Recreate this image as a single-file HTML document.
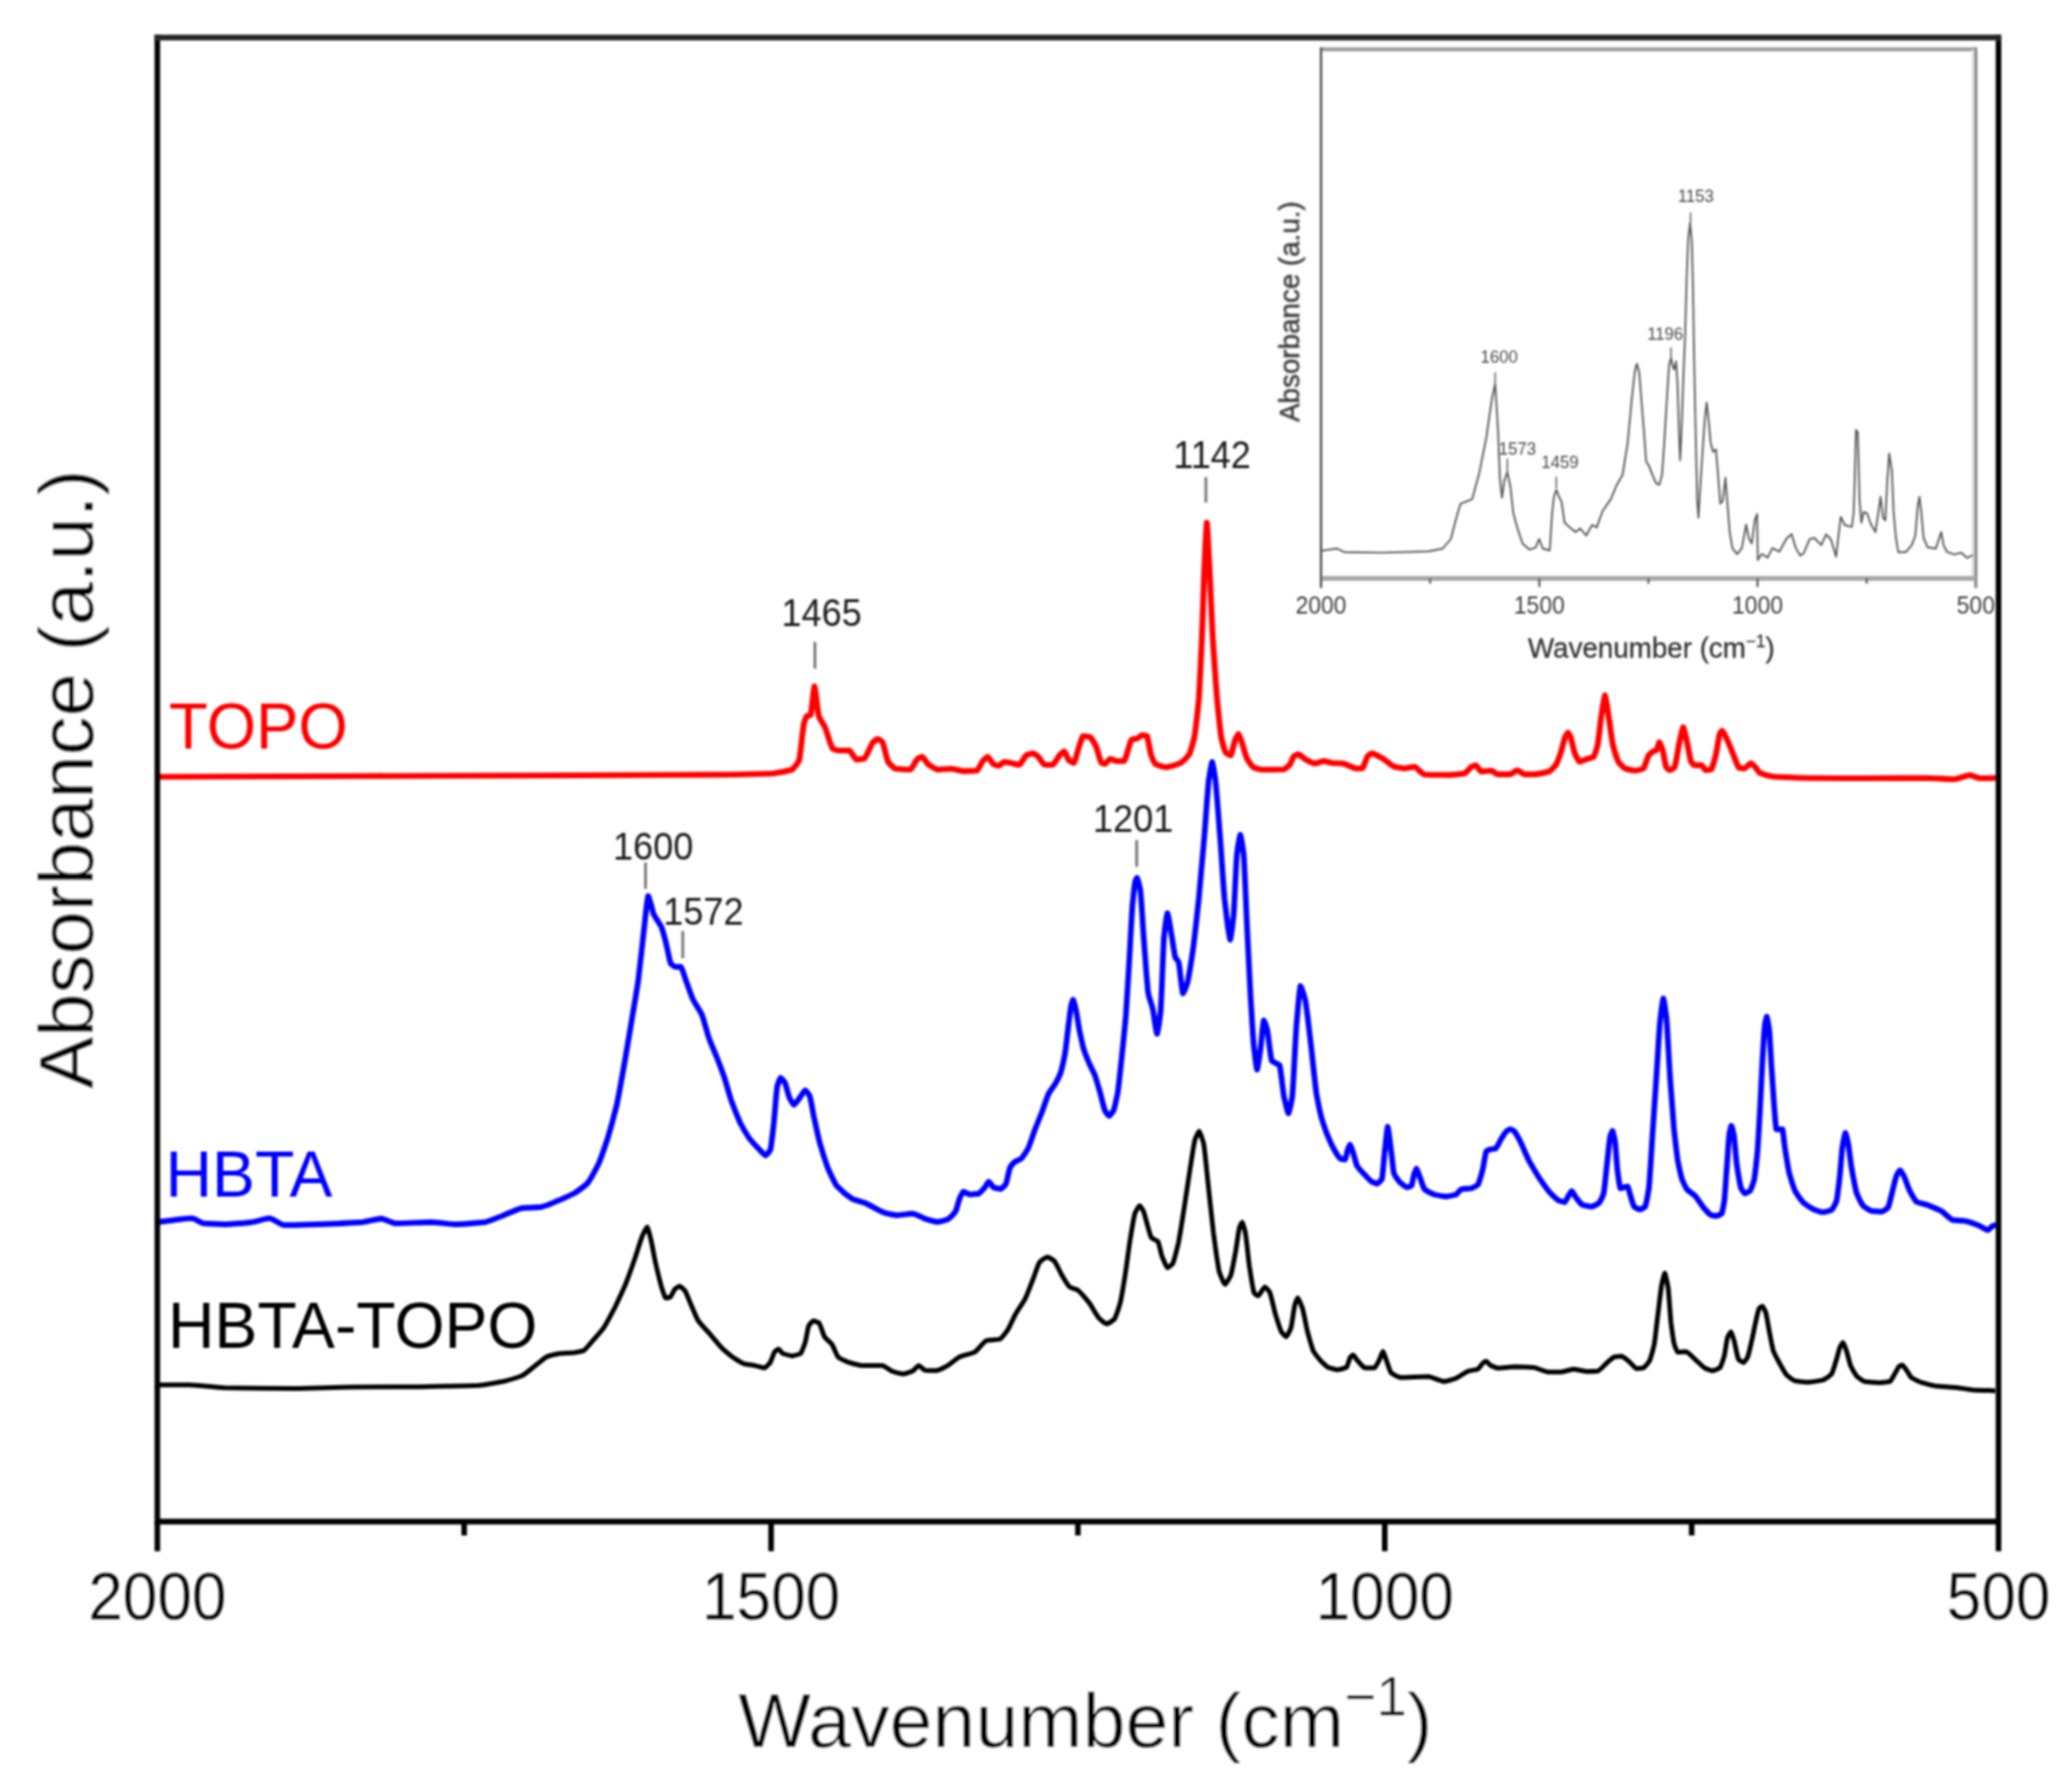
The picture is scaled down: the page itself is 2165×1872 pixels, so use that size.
<!DOCTYPE html>
<html lang="en"><head><meta charset="utf-8"><title>FTIR spectra</title>
<style>html,body{margin:0;padding:0;background:#fff;}body{width:2165px;height:1872px;overflow:hidden;}svg{display:block;}</style>
</head><body>
<svg width="2165" height="1872" viewBox="0 0 2165 1872" font-family='"Liberation Sans", sans-serif'>
<defs><filter id="b1" x="-2%" y="-2%" width="104%" height="104%"><feGaussianBlur stdDeviation="1.05"/></filter><filter id="b3" x="-2%" y="-2%" width="104%" height="104%"><feGaussianBlur stdDeviation="1.25"/></filter><filter id="b2" x="-2%" y="-2%" width="104%" height="104%"><feGaussianBlur stdDeviation="0.95"/></filter></defs>
<rect width="2165" height="1872" fill="#fff"/>
<g filter="url(#b2)">
<line x1="1380.3" y1="51.5" x2="2064.5" y2="51.5" stroke="#9a9a9a" stroke-width="4"/>
<line x1="2064.5" y1="49.5" x2="2064.5" y2="614.2" stroke="#8a8a8a" stroke-width="3.4"/>
<line x1="2061.5" y1="51.5" x2="2061.5" y2="604.2" stroke="#dcdcdc" stroke-width="2.5"/>
<line x1="1380.3" y1="604.2" x2="2064.5" y2="604.2" stroke="#a6a6a6" stroke-width="5"/>
<line x1="1380.3" y1="49.5" x2="1380.3" y2="614.2" stroke="#3a3a3a" stroke-width="2.2"/>
<line x1="1608.4" y1="604.2" x2="1608.4" y2="613.2" stroke="#555" stroke-width="2.2"/>
<line x1="1836.4" y1="604.2" x2="1836.4" y2="613.2" stroke="#555" stroke-width="2.2"/>
<line x1="1494.3" y1="604.2" x2="1494.3" y2="609.7" stroke="#555" stroke-width="2.2"/>
<line x1="1722.4" y1="604.2" x2="1722.4" y2="609.7" stroke="#555" stroke-width="2.2"/>
<line x1="1950.5" y1="604.2" x2="1950.5" y2="609.7" stroke="#555" stroke-width="2.2"/>
<path d="M1380.3,575.4 L1397.0,573.0 L1404.4,576.7 L1443.7,577.4 L1492.8,576.0 L1507.5,573.0 L1516.0,563.0 L1521.0,543.5 L1526.0,526.3 L1538.2,521.4 L1545.6,494.4 L1553.0,457.5 L1559.0,415.8 L1562.3,401.0 L1565.3,450.0 L1567.2,499.3 L1569.4,520.0 L1571.9,501.8 L1575.0,493.0 L1578.3,509.0 L1581.2,536.0 L1586.0,553.3 L1591.0,568.0 L1598.4,574.2 L1604.6,571.8 L1608.2,563.0 L1612.0,573.0 L1619.3,575.0 L1621.8,536.0 L1623.7,519.0 L1626.2,511.6 L1629.0,519.0 L1631.6,523.9 L1634.8,546.0 L1640.2,550.9 L1646.3,555.8 L1651.2,552.0 L1657.4,559.5 L1663.5,548.4 L1668.4,550.9 L1674.6,533.7 L1683.2,521.4 L1689.3,506.7 L1695.4,496.0 L1700.7,463.0 L1705.0,417.0 L1708.2,388.0 L1710.3,380.0 L1712.8,389.0 L1715.3,420.5 L1717.7,450.0 L1720.0,481.8 L1723.0,486.7 L1726.8,496.6 L1730.5,505.0 L1733.7,506.4 L1736.6,496.6 L1739.0,462.2 L1741.5,420.5 L1744.0,381.2 L1746.0,373.9 L1748.2,383.7 L1749.4,386.0 L1751.3,377.5 L1752.8,400.9 L1754.3,450.0 L1755.5,480.6 L1757.0,450.0 L1758.7,400.9 L1760.7,351.8 L1762.4,290.4 L1764.0,248.7 L1766.0,232.8 L1767.8,253.6 L1769.0,302.7 L1770.2,376.3 L1771.7,450.0 L1773.4,523.6 L1774.7,540.7 L1776.4,511.3 L1778.8,474.5 L1781.3,437.7 L1783.3,420.5 L1785.2,437.7 L1787.4,462.2 L1790.0,472.0 L1793.0,469.6 L1795.0,494.0 L1797.5,526.0 L1800.0,523.6 L1802.9,499.0 L1804.8,523.6 L1807.3,555.5 L1810.2,572.6 L1815.2,578.8 L1820.0,572.6 L1824.5,548.0 L1827.4,562.8 L1830.4,567.7 L1833.6,543.2 L1836.0,537.0 L1836.7,585.0 L1840.9,578.8 L1847.0,582.4 L1852.0,572.6 L1859.3,576.3 L1866.7,562.8 L1872.0,558.0 L1876.5,572.6 L1881.0,580.4 L1884.7,578.0 L1890.9,563.2 L1895.8,562.0 L1903.0,569.4 L1908.0,558.3 L1913.0,563.2 L1918.5,581.6 L1921.0,559.5 L1923.4,539.9 L1927.7,548.5 L1935.0,550.3 L1936.9,535.0 L1938.0,498.2 L1939.3,449.0 L1941.2,451.5 L1943.0,522.7 L1944.9,546.0 L1947.3,535.0 L1951.0,536.2 L1954.7,547.3 L1959.6,555.9 L1962.7,535.0 L1965.0,519.0 L1967.6,541.0 L1970.0,543.6 L1971.9,504.3 L1974.0,473.6 L1976.8,492.0 L1978.6,535.0 L1981.0,562.0 L1983.5,576.7 L1991.5,576.7 L1997.6,569.4 L2001.3,559.5 L2003.8,528.9 L2005.6,519.0 L2007.5,535.0 L2009.9,562.0 L2014.2,571.8 L2022.8,573.0 L2025.9,563.2 L2028.3,555.9 L2030.8,569.4 L2034.5,576.7 L2041.8,579.2 L2049.2,577.3 L2055.3,582.9 L2061.5,579.8" fill="none" stroke="#585858" stroke-width="1.9" stroke-linejoin="round"/>
<text transform="translate(1380.3,640.5) scale(0.92,1)" font-size="26" text-anchor="middle" fill="#3d3d3d">2000</text>
<text transform="translate(1608.4,640.5) scale(0.92,1)" font-size="26" text-anchor="middle" fill="#3d3d3d">1500</text>
<text transform="translate(1836.4,640.5) scale(0.92,1)" font-size="26" text-anchor="middle" fill="#3d3d3d">1000</text>
<text transform="translate(2064.5,640.5) scale(0.92,1)" font-size="26" text-anchor="middle" fill="#3d3d3d">500</text>
<text x="1725.5" y="687" font-size="29" text-anchor="middle" fill="#333" stroke="#333" stroke-width="0.3">Wavenumber (cm<tspan font-size="18" dy="-11">&#8722;1</tspan><tspan dy="11">)</tspan></text>
<text transform="translate(1357.5,325.5) rotate(-90)" font-size="29" text-anchor="middle" fill="#333" stroke="#333" stroke-width="0.4">Absorbance (a.u.)</text>
<text x="1566.5" y="379" font-size="17.5" text-anchor="middle" fill="#484848">1600</text>
<line x1="1562.3" y1="389" x2="1562.3" y2="400" stroke="#666" stroke-width="1.6"/>
<text x="1585.5" y="474.5" font-size="17.5" text-anchor="middle" fill="#484848">1573</text>
<line x1="1575" y1="479" x2="1575" y2="492" stroke="#666" stroke-width="1.6"/>
<text x="1630" y="489" font-size="17.5" text-anchor="middle" fill="#484848">1459</text>
<line x1="1626.2" y1="498" x2="1626.2" y2="510" stroke="#666" stroke-width="1.6"/>
<text x="1740" y="355" font-size="17.5" text-anchor="middle" fill="#484848">1196</text>
<line x1="1746" y1="363" x2="1746" y2="373" stroke="#666" stroke-width="1.6"/>
<text x="1772" y="211" font-size="17.5" text-anchor="middle" fill="#484848">1153</text>
<line x1="1766.5" y1="222" x2="1766.5" y2="232" stroke="#666" stroke-width="1.6"/>
</g>
<g filter="url(#b1)">
<path d="M164.5,811.5 C209.7,811.3 254.8,811.2 300.0,811.0 C350.0,810.8 400.0,810.7 450.0,810.5 C500.0,810.3 550.0,810.2 600.0,810.0 C633.3,809.9 666.7,809.7 700.0,809.5 C720.0,809.4 740.0,809.3 760.0,809.2 C776.0,808.9 792.0,808.6 808.0,808.0 C814.5,807.2 821.1,806.0 827.6,804.0 C830.1,802.0 832.5,799.0 835.0,794.4 C836.7,786.5 838.3,765.0 840.0,755.8 C841.0,752.6 842.0,749.4 843.0,748.0 C844.3,747.5 845.7,747.5 847.0,747.0 C848.3,742.1 849.7,721.5 851.0,717.0 C852.5,721.6 854.0,740.9 855.5,748.0 C857.7,753.3 859.8,755.4 862.0,759.7 C864.7,766.2 867.3,777.8 870.0,782.0 C872.0,782.9 874.0,783.7 876.0,784.0 C879.8,784.0 883.6,784.0 887.4,784.0 C889.9,785.4 892.5,792.1 895.0,793.5 C897.7,793.4 900.3,793.0 903.0,792.5 C906.2,789.5 909.3,779.2 912.5,775.0 C914.0,773.8 915.5,772.5 917.0,772.0 C918.7,772.5 920.3,773.6 922.0,775.0 C924.0,779.3 926.0,791.2 928.0,796.0 C930.6,799.1 933.1,801.8 935.7,803.0 C940.8,803.5 945.9,803.9 951.0,804.0 C953.7,802.3 956.3,795.1 959.0,792.5 C960.6,791.7 962.1,790.9 963.7,790.6 C965.6,791.7 967.6,796.0 969.5,798.0 C973.0,800.5 976.5,803.1 980.0,804.0 C984.5,803.9 989.1,803.1 993.6,803.0 C998.1,803.4 1002.5,805.2 1007.0,805.6 C1011.5,805.5 1016.1,805.3 1020.6,805.0 C1022.9,803.3 1025.1,797.3 1027.4,794.4 C1028.9,792.9 1030.5,791.2 1032.0,790.6 C1034.0,791.8 1036.0,796.6 1038.0,798.3 C1039.7,799.0 1041.3,799.7 1043.0,800.0 C1045.2,799.4 1047.4,796.6 1049.6,796.0 C1051.4,796.1 1053.2,796.5 1055.0,796.8 C1058.3,797.4 1061.7,798.7 1065.0,799.0 C1067.6,797.4 1070.1,790.7 1072.7,788.6 C1075.0,787.9 1077.2,787.2 1079.5,787.0 C1081.3,787.5 1083.2,789.2 1085.0,790.6 C1087.0,792.8 1089.0,797.4 1091.0,798.7 C1093.9,798.9 1096.9,799.0 1099.8,799.0 C1102.4,797.4 1104.9,791.5 1107.5,788.6 C1109.0,787.2 1110.5,785.5 1112.0,785.0 C1113.7,786.4 1115.3,792.2 1117.0,794.4 C1118.7,795.5 1120.3,796.6 1122.0,797.0 C1123.9,794.3 1125.9,784.7 1127.8,779.0 C1129.1,775.5 1130.3,770.5 1131.6,769.0 C1134.1,769.1 1136.5,769.5 1139.0,770.0 C1141.0,771.6 1143.0,775.5 1145.0,779.0 C1147.0,783.9 1149.0,793.8 1151.0,797.0 C1152.2,797.5 1153.3,797.9 1154.5,798.0 C1156.3,797.2 1158.2,793.5 1160.0,792.7 C1162.3,793.0 1164.5,794.7 1166.8,795.0 C1169.4,795.0 1172.0,795.0 1174.6,795.0 C1177.2,791.6 1179.8,776.5 1182.4,772.6 C1184.3,772.1 1186.1,772.0 1188.0,771.5 C1189.9,770.7 1191.7,768.5 1193.6,768.0 C1195.2,768.1 1196.9,768.5 1198.5,769.0 C1199.8,772.1 1201.2,782.9 1202.5,788.0 C1204.0,792.0 1205.5,796.0 1207.0,798.0 C1210.7,799.8 1214.3,801.1 1218.0,801.6 C1223.2,800.9 1228.5,799.1 1233.8,797.0 C1236.7,794.9 1239.7,792.0 1242.7,788.0 C1244.5,783.7 1246.2,777.5 1248.0,770.0 C1249.6,759.8 1251.1,746.6 1252.7,730.0 C1253.8,712.5 1254.9,687.7 1256.0,663.0 C1256.8,642.8 1257.5,615.7 1258.3,596.0 C1259.2,577.2 1260.1,553.5 1261.0,546.0 C1262.0,553.5 1262.9,578.3 1263.9,596.0 C1264.9,616.9 1266.0,643.0 1267.0,663.0 C1268.6,688.1 1270.1,710.3 1271.7,730.0 C1273.1,744.8 1274.6,760.0 1276.0,770.0 C1277.5,776.7 1279.1,782.8 1280.6,786.0 C1282.4,787.4 1284.2,788.5 1286.0,789.0 C1287.6,786.5 1289.1,777.0 1290.7,772.6 C1291.8,770.4 1292.9,767.8 1294.0,767.0 C1295.0,768.0 1296.0,771.3 1297.0,773.7 C1299.0,779.4 1301.0,787.8 1303.0,792.7 C1305.2,796.3 1307.4,799.7 1309.6,801.6 C1312.6,802.7 1315.6,803.6 1318.6,804.0 C1326.1,804.0 1333.5,803.9 1341.0,803.8 C1343.2,803.1 1345.4,801.1 1347.6,799.0 C1349.1,796.8 1350.5,791.9 1352.0,790.0 C1353.5,789.1 1355.0,788.3 1356.5,788.0 C1359.3,788.9 1362.2,792.1 1365.0,793.8 C1368.0,795.2 1371.0,797.0 1374.0,797.6 C1377.0,797.2 1380.0,795.4 1383.0,795.0 C1386.0,795.3 1389.0,796.6 1392.0,797.0 C1395.7,797.3 1399.3,797.3 1403.0,797.6 C1407.6,798.6 1412.2,801.9 1416.8,802.7 C1419.0,802.7 1421.3,802.7 1423.5,802.7 C1425.3,800.8 1427.2,792.9 1429.0,790.0 C1430.5,788.7 1432.0,787.5 1433.5,787.0 C1437.6,787.9 1441.7,790.8 1445.8,793.0 C1449.5,795.4 1453.3,799.3 1457.0,801.0 C1460.7,801.8 1464.3,802.4 1468.0,802.7 C1471.3,802.4 1474.7,801.3 1478.0,801.0 C1481.3,802.2 1484.7,807.7 1488.0,809.0 C1492.0,809.3 1496.0,809.4 1500.0,809.5 C1504.8,809.5 1509.7,809.6 1514.5,809.6 C1519.8,809.4 1525.1,808.8 1530.4,808.0 C1532.8,806.7 1535.2,802.7 1537.6,801.0 C1539.1,800.3 1540.5,799.6 1542.0,799.4 C1543.9,800.4 1545.9,805.0 1547.8,806.0 C1551.2,805.9 1554.6,805.1 1558.0,805.0 C1560.3,805.6 1562.7,808.3 1565.0,808.9 C1569.3,808.9 1573.7,808.9 1578.0,808.9 C1580.5,808.3 1582.9,805.4 1585.4,804.8 C1587.8,805.4 1590.3,808.3 1592.7,808.9 C1596.5,808.9 1600.2,808.9 1604.0,808.9 C1608.9,808.5 1613.8,807.4 1618.7,806.0 C1621.1,804.4 1623.6,801.8 1626.0,798.7 C1627.7,795.4 1629.3,790.4 1631.0,785.7 C1632.5,780.9 1633.9,773.9 1635.4,769.8 C1636.4,768.0 1637.3,766.1 1638.3,765.4 C1639.2,766.1 1640.1,768.0 1641.0,769.8 C1642.5,774.2 1644.0,782.4 1645.5,787.0 C1647.2,790.6 1648.9,794.5 1650.6,795.8 C1653.0,795.4 1655.4,793.9 1657.8,793.0 C1660.2,792.2 1662.6,791.9 1665.0,790.8 C1666.5,788.5 1667.9,783.7 1669.4,778.4 C1670.6,771.3 1671.8,758.3 1673.0,749.5 C1674.3,741.1 1675.7,729.8 1677.0,726.3 C1678.3,729.8 1679.7,741.5 1681.0,749.5 C1682.4,758.7 1683.9,770.7 1685.3,778.4 C1687.2,785.5 1689.1,791.6 1691.0,795.8 C1693.5,798.9 1695.9,801.5 1698.4,803.0 C1701.8,803.9 1705.1,804.7 1708.5,805.0 C1711.3,804.7 1714.2,804.0 1717.0,803.0 C1719.0,800.3 1721.0,792.1 1723.0,788.6 C1724.4,787.1 1725.9,786.0 1727.3,785.0 C1728.5,784.4 1729.8,784.2 1731.0,783.5 C1731.9,781.9 1732.9,776.7 1733.8,775.5 C1735.0,776.8 1736.2,780.6 1737.4,784.0 C1738.6,788.7 1739.8,798.1 1741.0,801.6 C1742.2,803.0 1743.5,804.1 1744.7,804.5 C1746.4,804.1 1748.0,803.0 1749.7,801.6 C1751.4,796.7 1753.1,783.6 1754.8,775.5 C1756.1,769.9 1757.4,762.0 1758.7,759.6 C1760.1,762.0 1761.4,769.9 1762.8,775.5 C1764.2,781.9 1765.6,791.5 1767.0,795.8 C1768.2,797.4 1769.5,798.9 1770.7,799.4 C1773.1,799.4 1775.6,799.4 1778.0,799.4 C1779.4,800.2 1780.9,803.7 1782.3,804.5 C1784.2,804.4 1786.1,804.2 1788.0,803.8 C1789.7,801.2 1791.3,794.1 1793.0,788.0 C1794.3,781.8 1795.7,771.2 1797.0,766.5 C1797.8,765.2 1798.5,763.9 1799.3,763.4 C1801.1,764.8 1802.9,769.3 1804.7,772.7 C1806.8,777.3 1808.9,783.0 1811.0,788.0 C1813.0,792.7 1815.0,799.6 1817.0,802.0 C1818.8,802.4 1820.7,802.7 1822.5,802.8 C1824.8,802.0 1827.1,798.2 1829.4,797.4 C1830.7,797.9 1832.0,799.3 1833.3,800.5 C1835.1,802.5 1836.9,805.9 1838.7,807.4 C1843.3,809.3 1848.0,810.5 1852.6,811.3 C1864.4,812.1 1876.2,812.5 1888.0,812.8 C1908.7,812.9 1929.3,813.0 1950.0,813.0 C1970.6,813.0 1991.1,812.8 2011.7,812.8 C2022.0,813.0 2032.2,813.8 2042.5,814.0 C2047.7,813.4 2052.8,810.3 2058.0,809.7 C2061.6,810.2 2065.2,812.5 2068.8,813.0 C2074.9,813.0 2080.9,812.9 2087.0,812.8" fill="none" stroke="#ff0000" stroke-width="6.1" stroke-linejoin="round" stroke-linecap="butt"/>
<path d="M164.5,1276.7 C171.7,1275.8 178.8,1274.8 186.0,1274.0 C190.9,1273.5 195.8,1272.8 200.7,1272.6 C204.7,1273.4 208.7,1277.0 212.7,1278.0 C220.0,1278.5 227.2,1278.8 234.5,1279.0 C244.1,1278.7 253.8,1277.7 263.4,1276.7 C269.4,1275.7 275.5,1273.2 281.5,1272.6 C286.7,1273.7 291.8,1278.7 297.0,1279.8 C308.3,1279.7 319.7,1279.3 331.0,1279.0 C347.0,1278.4 363.0,1277.8 379.0,1276.7 C385.5,1275.8 392.0,1273.6 398.5,1273.0 C403.3,1273.8 408.2,1277.2 413.0,1278.0 C425.9,1277.8 438.7,1276.9 451.6,1276.7 C459.7,1277.0 467.7,1278.7 475.8,1279.0 C486.2,1278.7 496.6,1277.8 507.0,1276.7 C513.5,1275.1 519.9,1271.8 526.4,1269.4 C532.9,1266.9 539.3,1263.4 545.8,1262.0 C552.2,1261.5 558.6,1261.5 565.0,1261.0 C571.5,1259.6 577.9,1256.4 584.4,1253.8 C589.9,1251.4 595.5,1249.0 601.0,1246.0 C605.3,1243.1 609.7,1240.1 614.0,1236.0 C617.9,1230.5 621.9,1222.9 625.8,1215.0 C628.9,1207.4 631.9,1198.3 635.0,1189.0 C638.2,1178.2 641.3,1166.9 644.5,1154.0 C647.2,1140.7 650.0,1124.8 652.7,1109.6 C655.1,1095.9 657.4,1081.6 659.8,1067.5 C662.1,1053.4 664.4,1040.7 666.8,1025.0 C668.7,1009.6 670.7,990.3 672.6,973.7 C674.2,960.8 675.7,941.7 677.3,936.0 C679.2,938.9 681.1,949.8 683.0,955.0 C685.8,960.6 688.6,963.3 691.4,969.0 C692.9,973.4 694.5,979.6 696.0,985.4 C697.6,992.0 699.2,1002.2 700.8,1006.5 C702.3,1008.1 703.9,1009.5 705.4,1010.0 C707.4,1010.0 709.3,1010.0 711.3,1010.0 C713.2,1012.2 715.1,1020.0 717.0,1025.0 C719.3,1031.3 721.7,1038.4 724.0,1044.0 C727.2,1050.2 730.4,1053.9 733.6,1060.4 C735.9,1066.9 738.3,1076.8 740.6,1084.0 C743.7,1092.4 746.9,1099.1 750.0,1107.0 C752.3,1113.2 754.7,1119.3 757.0,1126.0 C759.3,1133.4 761.7,1142.3 764.0,1149.5 C767.1,1158.0 770.3,1166.0 773.4,1173.0 C776.5,1178.9 779.7,1184.3 782.8,1189.0 C786.7,1193.9 790.6,1197.9 794.5,1202.0 C796.3,1203.7 798.2,1206.2 800.0,1207.0 C801.7,1206.1 803.3,1203.9 805.0,1201.0 C806.2,1195.4 807.4,1183.2 808.6,1173.0 C809.7,1161.7 810.9,1143.7 812.0,1135.4 C813.2,1131.2 814.4,1127.4 815.6,1126.0 C817.1,1126.7 818.5,1128.7 820.0,1130.7 C821.7,1134.6 823.3,1142.7 825.0,1147.0 C826.5,1149.8 828.1,1153.0 829.6,1154.0 C831.6,1153.0 833.5,1149.4 835.5,1147.0 C837.5,1144.4 839.4,1140.2 841.4,1139.0 C842.9,1139.9 844.5,1142.2 846.0,1144.8 C847.6,1150.0 849.1,1160.5 850.7,1168.0 C852.7,1176.9 854.6,1186.1 856.6,1194.0 C859.3,1203.4 862.1,1212.2 864.8,1219.8 C867.9,1226.8 870.9,1233.6 874.0,1238.5 C879.5,1244.4 885.1,1249.1 890.6,1252.6 C895.3,1254.4 899.9,1255.4 904.6,1257.0 C910.9,1259.8 917.1,1264.2 923.4,1266.6 C928.1,1267.8 932.7,1269.1 937.4,1269.5 C942.9,1269.2 948.3,1268.1 953.8,1267.8 C958.5,1268.7 963.3,1272.0 968.0,1273.7 C971.9,1274.8 975.7,1276.1 979.6,1276.5 C983.2,1276.1 986.8,1275.0 990.4,1273.8 C993.1,1271.9 995.7,1269.3 998.4,1265.7 C999.9,1262.2 1001.4,1255.4 1002.9,1251.4 C1004.1,1249.0 1005.2,1246.0 1006.4,1245.0 C1008.8,1245.4 1011.2,1247.5 1013.6,1247.9 C1016.6,1247.8 1019.5,1247.4 1022.5,1247.0 C1024.6,1245.8 1026.7,1243.0 1028.8,1240.7 C1030.2,1238.8 1031.6,1235.4 1033.0,1234.5 C1034.9,1235.4 1036.7,1239.4 1038.6,1240.7 C1041.0,1241.3 1043.3,1241.8 1045.7,1242.0 C1047.5,1241.2 1049.2,1239.3 1051.0,1237.0 C1052.5,1233.1 1054.0,1223.5 1055.5,1219.3 C1057.0,1217.0 1058.5,1215.4 1060.0,1214.0 C1062.3,1212.5 1064.7,1211.9 1067.0,1210.4 C1069.4,1207.8 1071.9,1203.8 1074.3,1199.6 C1076.7,1194.1 1079.0,1186.4 1081.4,1180.0 C1083.8,1173.8 1086.2,1168.2 1088.6,1162.0 C1091.0,1155.7 1093.3,1147.9 1095.7,1142.5 C1098.1,1138.3 1100.5,1135.7 1102.9,1131.8 C1104.7,1128.5 1106.4,1125.3 1108.2,1121.0 C1109.7,1115.7 1111.2,1109.1 1112.7,1101.4 C1113.9,1093.4 1115.1,1082.3 1116.2,1072.9 C1117.2,1065.7 1118.1,1056.9 1119.0,1051.4 C1119.8,1048.5 1120.5,1045.4 1121.2,1044.3 C1122.3,1045.9 1123.3,1050.9 1124.3,1055.0 C1125.5,1061.1 1126.7,1069.8 1127.9,1076.4 C1129.4,1083.5 1130.8,1090.4 1132.3,1096.0 C1134.4,1102.2 1136.5,1107.0 1138.6,1112.0 C1140.4,1115.8 1142.1,1118.8 1143.9,1122.9 C1145.7,1128.1 1147.5,1134.6 1149.3,1140.7 C1151.1,1147.1 1152.8,1155.7 1154.6,1160.4 C1156.1,1162.6 1157.5,1164.9 1159.0,1165.7 C1160.5,1164.8 1162.1,1162.5 1163.6,1160.0 C1165.1,1155.5 1166.5,1148.4 1168.0,1140.7 C1169.2,1131.8 1170.5,1119.3 1171.7,1108.0 C1173.3,1092.9 1174.8,1078.8 1176.4,1061.0 C1177.6,1044.0 1178.8,1022.5 1180.0,1002.7 C1181.1,983.5 1182.3,959.7 1183.4,944.0 C1184.4,934.7 1185.3,925.8 1186.2,920.6 C1186.8,919.1 1187.4,917.5 1188.0,917.0 C1189.2,919.0 1190.4,924.2 1191.6,930.0 C1192.7,941.0 1193.9,963.4 1195.0,979.0 C1196.6,999.5 1198.2,1024.3 1199.8,1037.8 C1201.4,1044.9 1202.9,1047.8 1204.5,1054.0 C1206.0,1061.5 1207.5,1076.1 1209.0,1080.0 C1210.2,1076.5 1211.5,1066.8 1212.7,1056.6 C1213.9,1038.6 1215.1,997.6 1216.2,979.0 C1217.4,968.3 1218.6,957.8 1219.8,954.0 C1221.4,957.8 1222.9,970.4 1224.5,979.0 C1225.7,985.8 1226.8,995.4 1228.0,1000.0 C1229.2,1002.2 1230.3,1002.8 1231.5,1005.0 C1233.0,1011.8 1234.5,1032.9 1236.0,1037.8 C1237.6,1036.0 1239.3,1030.8 1240.9,1026.0 C1242.8,1017.1 1244.8,1003.9 1246.7,991.0 C1248.7,975.5 1250.6,957.5 1252.6,939.0 C1254.5,918.7 1256.5,896.3 1258.4,873.8 C1259.9,854.8 1261.5,830.0 1263.0,815.0 C1264.2,807.3 1265.4,798.9 1266.6,796.0 C1267.7,798.9 1268.9,807.5 1270.0,815.0 C1271.6,830.4 1273.2,853.5 1274.8,873.8 C1276.4,894.7 1277.9,920.9 1279.5,939.0 C1281.5,955.8 1283.4,975.2 1285.4,981.6 C1286.6,977.7 1287.8,966.5 1289.0,955.8 C1290.1,939.8 1291.3,907.5 1292.4,892.5 C1293.6,883.6 1294.8,875.1 1296.0,872.0 C1297.2,875.1 1298.3,883.5 1299.5,892.5 C1300.7,909.7 1301.8,942.9 1303.0,967.5 C1304.2,991.4 1305.3,1016.1 1306.5,1037.8 C1307.7,1057.1 1308.8,1077.2 1310.0,1091.7 C1311.2,1102.0 1312.3,1113.6 1313.5,1117.5 C1314.7,1114.3 1315.8,1104.1 1317.0,1096.4 C1318.2,1087.3 1319.3,1070.6 1320.5,1066.0 C1321.7,1067.4 1322.8,1071.5 1324.0,1075.3 C1325.6,1083.5 1327.2,1102.1 1328.8,1108.0 C1331.5,1110.5 1334.2,1110.3 1337.0,1112.8 C1338.5,1118.7 1340.1,1136.6 1341.6,1145.6 C1343.2,1152.4 1344.7,1160.4 1346.3,1163.0 C1347.6,1160.4 1349.0,1153.3 1350.3,1145.6 C1351.7,1129.4 1353.1,1093.7 1354.5,1073.0 C1355.9,1056.6 1357.3,1036.5 1358.8,1030.0 C1360.5,1032.2 1362.2,1038.6 1363.9,1044.8 C1365.9,1056.3 1367.8,1075.7 1369.8,1091.7 C1371.7,1108.4 1373.6,1128.6 1375.6,1143.0 C1377.2,1151.8 1378.7,1159.3 1380.3,1166.0 C1382.2,1172.6 1384.1,1178.1 1386.0,1183.4 C1388.3,1189.0 1390.5,1194.2 1392.8,1198.8 C1395.4,1203.1 1397.9,1208.2 1400.5,1210.4 C1402.1,1210.9 1403.8,1211.2 1405.4,1211.4 C1406.4,1209.8 1407.3,1203.8 1408.3,1200.8 C1409.1,1199.0 1409.8,1196.7 1410.6,1196.0 C1411.7,1197.3 1412.9,1201.5 1414.0,1204.6 C1415.3,1208.7 1416.7,1214.7 1418.0,1218.0 C1420.5,1221.8 1423.1,1224.0 1425.6,1226.8 C1428.2,1229.5 1430.8,1232.7 1433.4,1234.6 C1435.3,1235.4 1437.1,1236.2 1439.0,1236.5 C1440.7,1235.8 1442.3,1234.2 1444.0,1231.7 C1445.0,1226.3 1445.9,1211.9 1446.9,1202.7 C1447.9,1193.7 1449.0,1180.9 1450.0,1177.0 C1451.2,1180.9 1452.4,1193.9 1453.6,1202.7 C1454.6,1210.2 1455.5,1221.0 1456.5,1225.9 C1458.4,1230.1 1460.4,1232.2 1462.3,1234.6 C1464.9,1236.9 1467.4,1239.4 1470.0,1240.3 C1471.6,1240.0 1473.3,1239.4 1474.9,1238.4 C1475.9,1236.1 1476.8,1229.3 1477.8,1225.9 C1478.5,1224.0 1479.3,1221.7 1480.0,1221.0 C1481.2,1222.3 1482.4,1226.7 1483.6,1229.7 C1485.2,1233.8 1486.8,1239.6 1488.4,1242.3 C1491.9,1245.0 1495.5,1246.6 1499.0,1248.0 C1502.9,1248.9 1506.7,1249.7 1510.6,1250.0 C1514.1,1249.7 1517.7,1249.0 1521.2,1248.0 C1523.1,1246.8 1525.1,1243.4 1527.0,1242.3 C1530.5,1241.8 1534.1,1241.8 1537.6,1241.3 C1539.9,1240.5 1542.1,1239.3 1544.4,1237.5 C1546.0,1234.3 1547.6,1227.8 1549.2,1222.0 C1550.5,1216.3 1551.7,1206.2 1553.0,1202.7 C1554.3,1201.8 1555.6,1201.3 1556.9,1200.8 C1558.8,1200.4 1560.8,1200.3 1562.7,1199.8 C1565.0,1197.7 1567.2,1191.8 1569.5,1188.2 C1571.1,1185.9 1572.7,1183.2 1574.3,1181.5 C1575.5,1180.7 1576.8,1179.8 1578.0,1179.5 C1579.3,1179.8 1580.7,1180.7 1582.0,1181.5 C1583.9,1183.7 1585.9,1187.6 1587.8,1191.0 C1591.0,1197.5 1594.3,1205.8 1597.5,1212.4 C1601.3,1219.3 1605.2,1225.6 1609.0,1231.7 C1612.2,1236.4 1615.5,1241.0 1618.7,1245.0 C1621.9,1248.3 1625.1,1251.8 1628.3,1253.9 C1630.5,1254.7 1632.8,1255.5 1635.0,1255.8 C1636.3,1254.8 1637.7,1251.2 1639.0,1249.0 C1640.1,1247.3 1641.1,1244.9 1642.2,1244.2 C1643.7,1245.2 1645.2,1248.9 1646.7,1251.0 C1648.9,1253.8 1651.2,1257.1 1653.4,1258.7 C1656.6,1259.6 1659.8,1260.3 1663.0,1260.6 C1665.6,1260.0 1668.2,1258.6 1670.8,1256.8 C1672.4,1254.6 1674.0,1251.5 1675.6,1247.0 C1676.9,1239.4 1678.2,1223.9 1679.5,1212.4 C1680.5,1204.0 1681.4,1193.0 1682.4,1187.3 C1683.2,1184.8 1684.1,1182.4 1684.9,1181.5 C1685.8,1183.2 1686.7,1188.1 1687.6,1193.0 C1688.4,1200.1 1689.2,1213.9 1690.0,1222.0 C1691.0,1229.6 1692.0,1238.4 1693.0,1241.3 C1695.6,1241.0 1698.1,1239.7 1700.7,1239.4 C1701.7,1240.8 1702.6,1245.9 1703.6,1249.0 C1704.9,1253.0 1706.2,1258.2 1707.5,1260.6 C1709.4,1262.0 1711.4,1263.1 1713.3,1263.5 C1715.2,1263.1 1717.1,1262.1 1719.0,1260.6 C1720.3,1257.0 1721.6,1249.5 1722.9,1241.3 C1724.2,1227.3 1725.5,1202.7 1726.8,1183.4 C1728.1,1164.1 1729.4,1144.9 1730.7,1125.5 C1732.0,1106.3 1733.2,1083.0 1734.5,1067.6 C1735.7,1057.8 1736.8,1046.7 1738.0,1043.0 C1739.1,1046.1 1740.2,1055.1 1741.3,1063.7 C1742.5,1079.1 1743.8,1106.2 1745.0,1125.5 C1746.3,1144.2 1747.7,1162.6 1749.0,1178.0 C1750.3,1190.7 1751.7,1202.6 1753.0,1212.0 C1754.5,1219.8 1756.0,1226.7 1757.5,1232.0 C1759.2,1236.2 1760.9,1239.7 1762.6,1242.4 C1765.5,1245.3 1768.4,1246.6 1771.3,1249.3 C1774.2,1252.7 1777.1,1257.8 1780.0,1261.5 C1782.6,1264.3 1785.2,1267.8 1787.8,1269.3 C1789.8,1269.7 1791.9,1270.1 1793.9,1270.2 C1795.6,1269.8 1797.3,1268.9 1799.0,1267.6 C1799.9,1265.2 1800.8,1260.1 1801.7,1254.6 C1802.6,1246.0 1803.4,1231.4 1804.3,1219.8 C1805.2,1208.2 1806.0,1193.3 1806.9,1185.0 C1807.6,1181.2 1808.3,1177.3 1809.0,1176.0 C1809.9,1177.3 1810.7,1181.2 1811.6,1185.0 C1812.6,1192.6 1813.7,1207.4 1814.7,1216.3 C1816.1,1225.8 1817.6,1235.3 1819.0,1240.7 C1820.5,1243.4 1821.9,1245.8 1823.4,1246.7 C1825.1,1246.3 1826.9,1245.3 1828.6,1244.0 C1830.1,1241.5 1831.5,1237.2 1833.0,1232.0 C1834.1,1224.9 1835.3,1214.1 1836.4,1202.4 C1837.3,1190.4 1838.1,1174.2 1839.0,1159.0 C1839.9,1142.5 1840.7,1122.9 1841.6,1106.9 C1842.4,1094.4 1843.1,1080.3 1843.9,1072.0 C1844.6,1067.7 1845.3,1063.5 1846.0,1062.0 C1846.9,1064.0 1847.7,1069.8 1848.6,1075.6 C1849.5,1085.6 1850.3,1103.7 1851.2,1117.3 C1852.1,1130.3 1852.9,1143.8 1853.8,1155.5 C1854.5,1164.2 1855.3,1176.2 1856.0,1179.8 C1858.2,1179.8 1860.3,1179.8 1862.5,1179.8 C1863.3,1182.7 1864.2,1193.0 1865.0,1199.0 C1866.5,1208.4 1867.9,1217.8 1869.4,1225.0 C1871.4,1232.5 1873.5,1238.9 1875.5,1244.0 C1878.4,1249.0 1881.3,1253.0 1884.2,1256.3 C1887.7,1259.1 1891.1,1261.4 1894.6,1263.2 C1898.1,1264.5 1901.5,1265.9 1905.0,1266.4 C1907.9,1266.0 1910.8,1265.2 1913.7,1264.0 C1915.5,1262.1 1917.2,1258.9 1919.0,1254.6 C1920.1,1248.8 1921.3,1238.2 1922.4,1228.5 C1923.3,1219.7 1924.1,1206.7 1925.0,1199.0 C1926.1,1192.6 1927.1,1185.8 1928.2,1183.5 C1929.1,1185.0 1930.1,1189.7 1931.0,1193.7 C1932.2,1200.8 1933.4,1211.9 1934.6,1219.8 C1936.3,1229.4 1938.1,1239.2 1939.8,1245.9 C1942.1,1251.7 1944.5,1256.5 1946.8,1259.8 C1949.7,1262.1 1952.5,1264.0 1955.4,1265.0 C1958.9,1265.4 1962.4,1265.7 1965.9,1265.8 C1968.2,1265.2 1970.5,1263.6 1972.8,1261.5 C1974.2,1258.3 1975.6,1251.2 1977.0,1245.9 C1978.5,1240.2 1980.0,1233.0 1981.5,1228.5 C1982.8,1226.0 1984.0,1223.3 1985.3,1222.4 C1986.6,1223.3 1988.0,1226.2 1989.3,1228.5 C1991.3,1232.9 1993.4,1239.4 1995.4,1244.0 C1997.7,1248.3 2000.1,1253.0 2002.4,1255.4 C2006.4,1257.1 2010.5,1257.6 2014.5,1258.9 C2019.1,1260.7 2023.8,1262.6 2028.4,1265.0 C2032.5,1267.7 2036.5,1272.8 2040.6,1274.5 C2044.6,1274.9 2048.7,1275.0 2052.7,1275.4 C2057.3,1276.3 2062.0,1278.1 2066.6,1279.7 C2070.1,1281.2 2073.5,1284.2 2077.0,1285.0 C2078.8,1284.3 2080.5,1281.5 2082.3,1280.6 C2084.0,1280.2 2085.8,1280.0 2087.5,1279.7" fill="none" stroke="#0000ff" stroke-width="5.9" stroke-linejoin="round" stroke-linecap="butt"/>
<path d="M164.5,1446.8 C175.7,1446.8 186.8,1446.8 198.0,1446.8 C210.2,1447.2 222.3,1449.1 234.5,1449.7 C258.7,1450.1 282.8,1450.3 307.0,1450.4 C327.0,1450.2 347.0,1449.3 367.0,1449.0 C391.2,1448.9 415.4,1448.8 439.6,1448.7 C459.7,1448.4 479.9,1448.0 500.0,1447.3 C508.8,1446.4 517.6,1444.7 526.4,1443.0 C532.9,1441.3 539.3,1439.5 545.8,1437.0 C550.5,1434.2 555.3,1429.6 560.0,1426.0 C564.0,1423.0 568.0,1419.2 572.0,1417.0 C576.1,1415.7 580.3,1414.7 584.4,1414.0 C589.6,1413.6 594.8,1413.4 600.0,1413.0 C603.2,1412.5 606.5,1411.9 609.7,1411.0 C612.9,1408.8 616.1,1404.1 619.3,1400.6 C623.2,1396.2 627.0,1392.1 630.9,1387.0 C634.8,1380.8 638.6,1373.2 642.5,1365.8 C646.3,1357.8 650.2,1349.6 654.0,1340.7 C657.2,1332.3 660.5,1322.9 663.7,1313.7 C666.3,1306.1 668.8,1297.0 671.4,1290.5 C673.0,1287.3 674.6,1283.3 676.2,1282.0 C677.5,1283.9 678.8,1289.8 680.0,1294.4 C681.7,1301.8 683.3,1311.6 685.0,1319.5 C686.9,1327.7 688.8,1335.8 690.7,1342.7 C692.3,1347.6 694.0,1354.0 695.6,1356.0 C697.2,1355.8 698.8,1355.5 700.4,1355.0 C702.0,1353.4 703.6,1348.6 705.2,1346.5 C706.8,1345.3 708.4,1344.0 710.0,1343.6 C711.9,1344.3 713.9,1346.4 715.8,1348.5 C717.7,1351.8 719.7,1357.5 721.6,1362.0 C724.2,1367.8 726.7,1374.5 729.3,1379.3 C733.8,1385.5 738.4,1389.6 742.9,1394.8 C746.7,1399.3 750.6,1404.2 754.4,1408.3 C758.3,1411.8 762.1,1415.1 766.0,1418.0 C769.9,1420.5 773.7,1423.2 777.6,1424.7 C781.5,1425.5 785.3,1425.9 789.2,1426.6 C792.4,1427.3 795.6,1428.6 798.8,1429.0 C800.7,1428.2 802.7,1425.9 804.6,1423.7 C806.2,1420.7 807.9,1414.7 809.5,1412.0 C810.8,1410.8 812.0,1409.7 813.3,1409.3 C814.9,1410.0 816.4,1412.9 818.0,1414.0 C821.3,1415.1 824.5,1416.0 827.8,1416.4 C830.7,1416.0 833.6,1415.2 836.5,1414.0 C838.1,1411.8 839.7,1407.1 841.3,1402.5 C842.5,1397.7 843.8,1388.8 845.0,1385.0 C846.7,1382.6 848.3,1380.5 850.0,1379.7 C851.9,1380.0 853.9,1380.9 855.8,1382.0 C857.7,1384.9 859.7,1392.9 861.6,1396.7 C864.2,1399.9 866.7,1401.3 869.3,1404.4 C871.5,1408.1 873.8,1414.9 876.0,1418.0 C879.2,1420.2 882.5,1421.5 885.7,1422.8 C890.8,1424.3 895.9,1426.0 901.0,1426.6 C908.1,1426.6 915.3,1426.6 922.4,1426.6 C925.6,1427.5 928.8,1430.9 932.0,1432.4 C935.9,1433.6 939.7,1434.9 943.6,1435.3 C946.8,1434.9 950.1,1433.6 953.3,1432.4 C955.5,1431.0 957.8,1427.5 960.0,1426.6 C962.3,1427.3 964.5,1430.7 966.8,1431.5 C970.7,1431.7 974.5,1431.8 978.4,1431.8 C982.3,1431.0 986.1,1428.6 990.0,1426.7 C994.1,1424.1 998.2,1420.0 1002.3,1417.6 C1007.7,1415.5 1013.1,1414.7 1018.5,1412.5 C1022.6,1409.6 1026.6,1402.7 1030.7,1400.4 C1035.4,1399.7 1040.2,1399.7 1044.9,1398.9 C1047.6,1397.1 1050.3,1392.9 1053.0,1389.2 C1055.7,1384.6 1058.3,1378.1 1061.0,1373.0 C1064.4,1367.2 1067.8,1362.9 1071.2,1356.8 C1073.9,1350.8 1076.6,1343.3 1079.3,1336.5 C1081.7,1330.5 1084.0,1322.4 1086.4,1318.3 C1089.1,1316.0 1091.8,1314.0 1094.5,1313.2 C1096.9,1313.8 1099.2,1315.5 1101.6,1317.2 C1104.3,1320.8 1107.0,1327.6 1109.7,1332.4 C1112.4,1336.7 1115.1,1341.9 1117.8,1344.6 C1120.5,1345.9 1123.3,1346.3 1126.0,1347.6 C1130.0,1350.8 1134.0,1356.0 1138.0,1360.8 C1141.4,1365.7 1144.9,1372.7 1148.3,1377.0 C1151.0,1379.4 1153.7,1382.1 1156.4,1383.0 C1159.1,1382.2 1161.8,1380.3 1164.5,1378.0 C1166.5,1374.3 1168.6,1367.6 1170.6,1360.8 C1172.3,1353.0 1173.9,1342.5 1175.6,1332.4 C1177.3,1321.0 1179.0,1307.3 1180.7,1296.0 C1182.4,1285.9 1184.1,1274.2 1185.8,1267.6 C1187.5,1264.1 1189.1,1260.7 1190.8,1259.5 C1192.2,1260.4 1193.5,1263.0 1194.9,1265.5 C1196.2,1269.2 1197.6,1275.1 1198.9,1279.7 C1200.3,1284.2 1201.6,1290.1 1203.0,1292.9 C1205.3,1294.9 1207.7,1295.0 1210.0,1297.0 C1211.3,1300.0 1212.7,1307.8 1214.0,1312.0 C1216.0,1316.8 1218.0,1322.5 1220.0,1324.3 C1221.8,1323.7 1223.5,1322.1 1225.3,1320.3 C1227.3,1315.6 1229.4,1306.5 1231.4,1298.0 C1233.4,1287.5 1235.4,1274.0 1237.4,1261.5 C1239.4,1248.3 1241.5,1234.1 1243.5,1221.0 C1245.2,1210.6 1246.9,1197.8 1248.6,1190.5 C1250.1,1186.9 1251.5,1183.3 1253.0,1182.0 C1254.6,1183.9 1256.1,1189.2 1257.7,1194.6 C1259.4,1205.4 1261.1,1225.7 1262.8,1241.2 C1264.5,1256.7 1266.2,1273.5 1267.9,1287.8 C1269.9,1302.5 1271.9,1318.7 1273.9,1328.4 C1275.9,1334.1 1278.0,1339.6 1280.0,1341.6 C1282.0,1340.2 1284.0,1336.4 1286.0,1332.4 C1287.7,1326.6 1289.3,1316.7 1291.0,1308.0 C1292.4,1299.8 1293.8,1287.8 1295.2,1281.8 C1296.1,1279.8 1297.0,1277.7 1297.9,1277.0 C1299.0,1278.6 1300.2,1283.3 1301.3,1287.8 C1302.7,1296.4 1304.0,1312.0 1305.4,1322.3 C1307.1,1332.8 1308.7,1345.3 1310.4,1350.7 C1311.8,1352.1 1313.1,1353.2 1314.5,1353.7 C1316.9,1352.3 1319.2,1346.0 1321.6,1344.6 C1323.3,1345.4 1324.9,1347.5 1326.6,1349.7 C1328.6,1355.0 1330.7,1365.8 1332.7,1373.0 C1334.7,1379.5 1336.8,1386.8 1338.8,1391.2 C1340.5,1393.3 1342.2,1395.5 1343.9,1396.3 C1345.6,1394.9 1347.2,1391.2 1348.9,1387.2 C1350.3,1381.4 1351.6,1369.0 1353.0,1362.9 C1354.0,1360.1 1355.0,1357.0 1356.0,1356.0 C1357.7,1357.6 1359.3,1362.5 1361.0,1366.9 C1362.7,1373.4 1364.5,1383.8 1366.2,1391.2 C1368.2,1398.6 1370.3,1406.3 1372.3,1411.5 C1375.0,1415.9 1377.7,1418.9 1380.4,1422.0 C1382.8,1424.4 1385.3,1426.9 1387.7,1428.4 C1390.9,1429.5 1394.2,1430.5 1397.4,1430.9 C1400.6,1430.5 1403.8,1429.7 1407.0,1428.4 C1408.3,1426.4 1409.6,1420.3 1410.9,1417.8 C1411.9,1416.8 1412.8,1415.8 1413.8,1415.4 C1415.4,1416.3 1417.0,1419.7 1418.6,1421.6 C1421.2,1424.3 1423.7,1427.9 1426.3,1429.0 C1429.5,1429.0 1432.8,1429.0 1436.0,1429.0 C1437.6,1427.9 1439.2,1424.3 1440.8,1421.6 C1442.2,1418.7 1443.6,1413.4 1445.0,1412.0 C1446.2,1413.3 1447.3,1417.7 1448.5,1420.7 C1450.1,1425.0 1451.8,1431.2 1453.4,1434.0 C1456.6,1436.4 1459.8,1438.2 1463.0,1439.0 C1472.7,1438.8 1482.3,1438.2 1492.0,1438.0 C1497.8,1438.8 1503.5,1442.4 1509.3,1443.2 C1513.2,1442.7 1517.1,1441.3 1521.0,1440.0 C1525.5,1437.9 1529.9,1434.1 1534.4,1432.2 C1537.6,1431.4 1540.8,1431.2 1544.0,1430.3 C1546.0,1428.9 1547.9,1425.3 1549.9,1423.5 C1550.9,1422.9 1551.8,1422.2 1552.8,1422.0 C1554.4,1422.7 1556.0,1425.3 1557.6,1426.4 C1560.2,1427.6 1562.7,1428.9 1565.3,1429.3 C1571.1,1429.1 1576.9,1428.0 1582.7,1427.8 C1589.1,1427.9 1595.6,1428.1 1602.0,1428.4 C1607.2,1429.3 1612.3,1432.5 1617.5,1433.2 C1622.0,1433.2 1626.5,1433.2 1631.0,1433.2 C1635.5,1432.8 1640.0,1430.7 1644.5,1430.3 C1649.0,1430.7 1653.5,1432.4 1658.0,1432.8 C1661.9,1432.7 1665.7,1432.5 1669.6,1432.2 C1672.8,1430.7 1676.0,1426.3 1679.2,1423.5 C1681.8,1421.4 1684.4,1418.5 1687.0,1417.4 C1689.6,1417.1 1692.1,1416.9 1694.7,1416.8 C1697.3,1417.7 1699.8,1420.6 1702.4,1422.6 C1704.9,1424.8 1707.5,1428.6 1710.0,1429.7 C1712.3,1429.6 1714.6,1429.3 1716.9,1429.0 C1719.1,1427.7 1721.4,1424.8 1723.6,1421.6 C1725.2,1417.4 1726.9,1411.3 1728.5,1404.2 C1729.8,1396.1 1731.0,1383.6 1732.3,1373.4 C1733.6,1363.0 1734.9,1350.8 1736.2,1342.5 C1737.3,1337.6 1738.4,1331.9 1739.5,1330.0 C1740.7,1332.2 1741.8,1338.6 1743.0,1345.0 C1744.0,1354.1 1745.0,1371.7 1746.0,1382.0 C1747.1,1390.6 1748.2,1398.6 1749.3,1404.0 C1750.5,1407.6 1751.8,1411.2 1753.0,1412.5 C1756.0,1412.4 1758.9,1412.1 1761.9,1412.0 C1764.9,1413.2 1768.0,1417.2 1771.0,1419.8 C1774.6,1423.0 1778.1,1427.0 1781.7,1429.4 C1784.3,1430.5 1786.9,1431.6 1789.5,1432.0 C1792.1,1431.5 1794.7,1430.3 1797.3,1428.6 C1798.8,1426.1 1800.2,1421.3 1801.7,1416.4 C1802.8,1411.2 1803.9,1401.7 1805.0,1397.3 C1806.2,1394.8 1807.4,1392.4 1808.6,1391.5 C1809.7,1392.9 1810.9,1397.3 1812.0,1400.8 C1813.5,1406.3 1814.9,1416.1 1816.4,1419.9 C1818.2,1421.6 1819.9,1422.9 1821.7,1423.4 C1823.1,1422.6 1824.6,1420.3 1826.0,1418.0 C1827.4,1413.9 1828.9,1406.8 1830.3,1400.8 C1831.8,1394.2 1833.2,1386.6 1834.7,1380.0 C1835.8,1375.4 1836.9,1369.6 1838.0,1366.9 C1839.1,1365.8 1840.2,1364.9 1841.3,1364.5 C1842.5,1365.5 1843.8,1368.2 1845.0,1371.0 C1846.2,1375.6 1847.4,1384.0 1848.6,1390.3 C1850.0,1397.5 1851.5,1405.8 1852.9,1411.2 C1855.2,1417.0 1857.6,1420.6 1859.9,1425.0 C1862.2,1429.0 1864.5,1433.4 1866.8,1436.4 C1869.7,1438.9 1872.6,1441.3 1875.5,1442.5 C1880.1,1443.2 1884.8,1443.7 1889.4,1443.9 C1894.6,1443.6 1899.8,1442.7 1905.0,1441.6 C1907.9,1440.3 1910.8,1438.3 1913.7,1435.5 C1915.5,1432.0 1917.2,1425.4 1919.0,1419.9 C1920.1,1416.0 1921.3,1410.9 1922.4,1407.7 C1923.5,1405.6 1924.5,1403.3 1925.6,1402.5 C1926.9,1403.8 1928.1,1407.9 1929.4,1411.2 C1930.8,1415.7 1932.3,1422.6 1933.7,1426.8 C1935.7,1431.0 1937.8,1434.6 1939.8,1437.3 C1942.7,1439.8 1945.6,1442.1 1948.5,1443.3 C1953.7,1444.0 1958.8,1444.4 1964.0,1444.6 C1967.5,1444.4 1971.1,1444.0 1974.6,1443.3 C1976.6,1441.6 1978.6,1437.1 1980.6,1433.8 C1981.7,1431.8 1982.9,1429.1 1984.0,1427.7 C1985.2,1426.9 1986.4,1426.3 1987.6,1426.0 C1989.1,1426.8 1990.5,1429.3 1992.0,1431.2 C1993.7,1433.6 1995.3,1437.1 1997.0,1439.0 C2000.5,1441.3 2004.1,1442.8 2007.6,1444.2 C2012.2,1445.6 2016.9,1446.9 2021.5,1447.7 C2029.0,1448.5 2036.5,1448.7 2044.0,1449.4 C2049.8,1450.1 2055.6,1451.4 2061.4,1452.0 C2069.5,1452.4 2077.6,1452.6 2085.7,1452.9" fill="none" stroke="#000" stroke-width="5.0" stroke-linejoin="round" stroke-linecap="butt"/>
</g><g filter="url(#b3)">
<path d="M164.4,36.35 V1589.5 M2088.2,36.35 V1589.5 M161.5,1589.5 H2091.1" fill="none" stroke="#000" stroke-width="5.8"/>
<line x1="161.5" y1="39.25" x2="2091.1" y2="39.25" stroke="#262626" stroke-width="5.8"/>
<line x1="164.4" y1="1589.5" x2="164.4" y2="1620.5" stroke="#000" stroke-width="5.8"/>
<line x1="805.7" y1="1589.5" x2="805.7" y2="1620.5" stroke="#000" stroke-width="5.8"/>
<line x1="1446.9" y1="1589.5" x2="1446.9" y2="1620.5" stroke="#000" stroke-width="5.8"/>
<line x1="2088.2" y1="1589.5" x2="2088.2" y2="1620.5" stroke="#000" stroke-width="5.8"/>
<line x1="485.0" y1="1589.5" x2="485.0" y2="1604.0" stroke="#000" stroke-width="5.8"/>
<line x1="1126.3" y1="1589.5" x2="1126.3" y2="1604.0" stroke="#000" stroke-width="5.8"/>
<line x1="1767.6" y1="1589.5" x2="1767.6" y2="1604.0" stroke="#000" stroke-width="5.8"/>
</g><g filter="url(#b1)">
<text transform="translate(164.4,1692) scale(0.915,1)" font-size="71" text-anchor="middle" fill="#000" stroke="#fff" stroke-width="0.3">2000</text>
<text transform="translate(805.7,1692) scale(0.915,1)" font-size="71" text-anchor="middle" fill="#000" stroke="#fff" stroke-width="0.3">1500</text>
<text transform="translate(1446.9,1692) scale(0.915,1)" font-size="71" text-anchor="middle" fill="#000" stroke="#fff" stroke-width="0.3">1000</text>
<text transform="translate(2088.2,1692) scale(0.915,1)" font-size="71" text-anchor="middle" fill="#000" stroke="#fff" stroke-width="0.3">500</text>
<text transform="translate(1134,1824.5) scale(1.008,1)" font-size="80" text-anchor="middle" fill="#000" stroke="#fff" stroke-width="0.6">Wavenumber (cm<tspan font-size="57" dy="-32.5">&#8722;1</tspan><tspan dy="32.5">)</tspan></text>
<text transform="translate(97,814) rotate(-90) scale(1.0175,1)" font-size="80" text-anchor="middle" fill="#000" stroke="#fff" stroke-width="0.6">Absorbance (a.u.)</text>
<text transform="translate(176.5,782) scale(0.963,1)" font-size="69" text-anchor="start" fill="#ff0000">TOPO</text>
<text transform="translate(173,1249.5) scale(0.975,1)" font-size="69" text-anchor="start" fill="#0000ff">HBTA</text>
<text transform="translate(175.5,1407.5) scale(0.975,1)" font-size="69" text-anchor="start" fill="#000">HBTA-TOPO</text>
<text transform="translate(858.5,653.5) scale(0.92,1)" font-size="41" text-anchor="middle" fill="#1c1c1c">1465</text>
<line x1="851.5" y1="670.5" x2="851.5" y2="698.5" stroke="#7a7a7a" stroke-width="3"/>
<text transform="translate(1266.5,488.5) scale(0.92,1)" font-size="41" text-anchor="middle" fill="#1c1c1c">1142</text>
<line x1="1260" y1="498.5" x2="1260" y2="525" stroke="#7a7a7a" stroke-width="3"/>
<text transform="translate(682.5,897.5) scale(0.92,1)" font-size="41" text-anchor="middle" fill="#1c1c1c">1600</text>
<line x1="674.5" y1="901" x2="674.5" y2="928.5" stroke="#7a7a7a" stroke-width="3"/>
<text transform="translate(735,966) scale(0.92,1)" font-size="41" text-anchor="middle" fill="#1c1c1c">1572</text>
<line x1="713.4" y1="972.6" x2="713.4" y2="1001" stroke="#7a7a7a" stroke-width="3"/>
<text transform="translate(1184,869) scale(0.92,1)" font-size="41" text-anchor="middle" fill="#1c1c1c">1201</text>
<line x1="1187.7" y1="877.5" x2="1187.7" y2="905.5" stroke="#7a7a7a" stroke-width="3"/>
</g>
</svg>
</body></html>
